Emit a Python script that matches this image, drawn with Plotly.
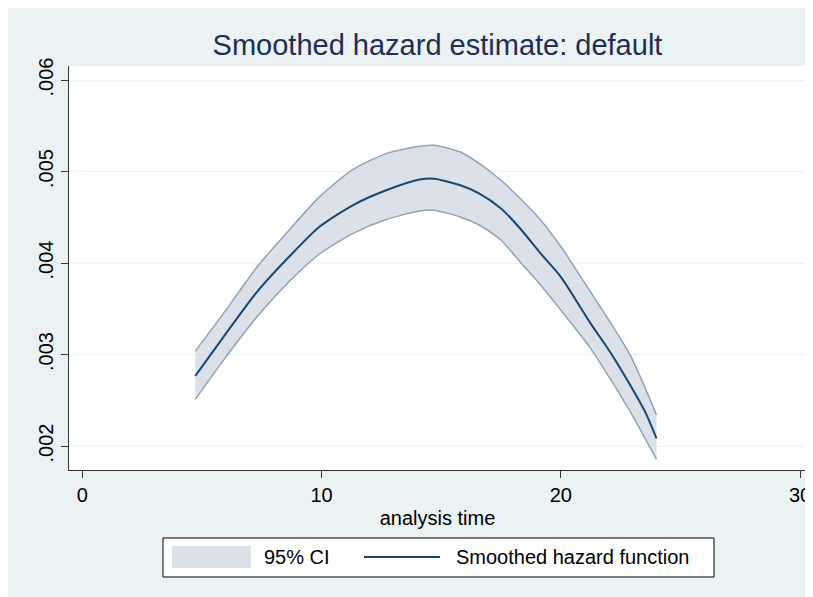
import plotly.graph_objects as go

# ---- data ----
analysis_time = [4.72, 5.9, 7.3, 8.7, 9.9, 11.3, 12.7, 14.1, 14.7, 15.8, 16.6,
                 17.5, 18.3, 19.1, 20.0, 21.2, 22.1, 22.9, 23.55, 24.0]
hazard = [.002767, .003193, .003685, .004085, .004394, .004631, .004795, .004912,
          .004922, .004849, .004759, .004595, .004377, .004122, .003849,
          .003357, .003012, .002666, .002360, .002084]
ci_upper = [.003037, .003449, .003957, .004377, .004720, .005020, .005195, .005275,
            .005286, .005213, .005086, .004904, .004704, .004486, .004180,
            .003700, .003339, .002993, .002620, .002338]
ci_lower = [.002510, .002939, .003412, .003812, .004096, .004322, .004475, .004569,
            .004576, .004503, .004413, .004249, .004012, .003776, .003485,
            .003084, .002720, .002375, .002070, .001855]

x_ticks = [0, 10, 20, 30]
y_ticks = [.002, .003, .004, .005, .006]
y_tick_labels = [".002", ".003", ".004", ".005", ".006"]

title_text = "Smoothed hazard estimate: default"
x_title = "analysis time"
legend_labels = ["95% CI", "Smoothed hazard function"]

# ---- styling ----
OFF = 8  # page body margin
W, H = 813 - OFF, 597 - OFF
L, R, T, B = 69 - OFF, 806 - OFF, 66 - OFF, 470 - OFF
BG = "#EAF2F3"
FILL = "#DCE1E9"
EDGE = "#8FA3B8"
NAVY = "#1A476F"
FONT = "Liberation Sans, Arial, Helvetica, sans-serif"

def px(sx):
    return (sx - OFF - L) / (R - L)

def py(sy):
    return (B - (sy - OFF)) / (B - T)

fig = go.Figure()
fig.add_trace(go.Scatter(x=analysis_time, y=ci_upper, mode="lines",
                         line=dict(color=EDGE, width=1.5, shape="spline", smoothing=0.7),
                         showlegend=False, hoverinfo="skip"))
fig.add_trace(go.Scatter(x=analysis_time, y=ci_lower, mode="lines", fill="tonexty",
                         fillcolor=FILL,
                         line=dict(color=EDGE, width=1.5, shape="spline", smoothing=0.7),
                         name=legend_labels[0], showlegend=False))
fig.add_trace(go.Scatter(x=analysis_time, y=hazard, mode="lines",
                         line=dict(color=NAVY, width=2, shape="spline", smoothing=0.7),
                         name=legend_labels[1], showlegend=False))

shapes = [
    # legend box
    dict(type="rect", xref="paper", yref="paper", x0=px(163), x1=px(714), y0=py(577), y1=py(538),
         fillcolor="white", line=dict(color="black", width=1)),
    dict(type="rect", xref="paper", yref="paper", x0=px(172), x1=px(251), y0=py(568), y1=py(546),
         fillcolor=FILL, line=dict(width=0)),
    dict(type="line", xref="paper", yref="paper", x0=px(364), x1=px(440), y0=py(557), y1=py(557),
         line=dict(color=NAVY, width=2)),
]
annotations = [
    dict(text=legend_labels[0], xref="paper", yref="paper", x=px(262), y=py(557),
         xanchor="left", yanchor="middle", showarrow=False,
         font=dict(size=20, color="black", family=FONT)),
    dict(text=legend_labels[1], xref="paper", yref="paper", x=px(454), y=py(557),
         xanchor="left", yanchor="middle", showarrow=False,
         font=dict(size=20, color="black", family=FONT)),
]

fig.update_layout(
    width=W, height=H,
    margin=dict(l=L, r=W - R, t=T, b=H - B, autoexpand=False),
    paper_bgcolor=BG, plot_bgcolor="white",
    font=dict(family=FONT, size=20, color="black"),
    title=dict(text=title_text, x=0.5, xref="paper", y=1 - (45 - OFF) / H, yref="container",
               xanchor="center", yanchor="middle",
               font=dict(size=29, color="#1E2E55", family=FONT)),
    shapes=shapes, annotations=annotations,
    showlegend=False,
    xaxis=dict(range=[-0.56, 30.25], tickvals=x_ticks, ticks="outside", ticklen=7,
               tickcolor="#333333", showline=True, linecolor="#333333", linewidth=1,
               showgrid=False, zeroline=False, tickfont=dict(size=20),
               title=dict(text=x_title, standoff=5, font=dict(size=20))),
    yaxis=dict(range=[0.001738, 0.006153], tickvals=y_ticks, ticktext=y_tick_labels,
               tickangle=-90, ticks="outside", ticklen=7, tickcolor="#333333",
               showline=True, linecolor="#333333", linewidth=1,
               showgrid=True, gridcolor=BG, gridwidth=1, zeroline=False,
               tickfont=dict(size=20)),
)

fig.write_html("out.html")
